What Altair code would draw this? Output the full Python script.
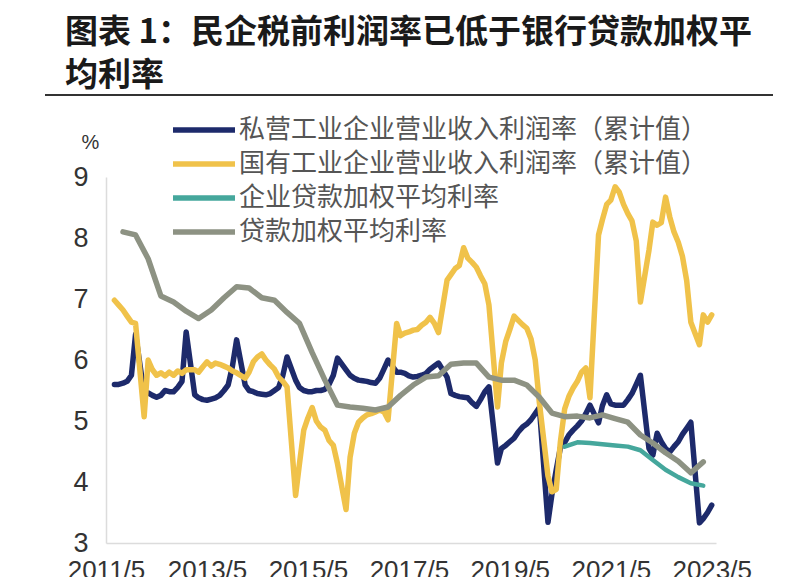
import altair as alt
import pandas as pd

title_lines = ["图表 1：民企税前利润率已低于银行贷款加权平", "均利率"]
series_names = [
    "私营工业企业营业收入利润率（累计值）",
    "国有工业企业营业收入利润率（累计值）",
    "企业贷款加权平均利率",
    "贷款加权平均利率",
]
series_colors = ["#1d2a6b", "#f0c24a", "#45a79c", "#8d9283"]
x_tick_years = [2011, 2013, 2015, 2017, 2019, 2021, 2023]
y_ticks = [3, 4, 5, 6, 7, 8, 9]

# cumulative monthly data (January not published), 2011/7 - 2023/5
monthly_dates = [
    f"{y}/{m:02d}/01"
    for y in range(2011, 2024)
    for m in range(2, 13)
    if (2011, 7) <= (y, m) <= (2023, 5)
]

private_margin = [
    5.6, 5.6, 5.62, 5.65, 5.75, 6.42,
    5.45, 5.46, 5.42, 5.39, 5.42, 5.5, 5.48, 5.48, 5.55, 5.65, 6.46,
    5.43, 5.38, 5.35, 5.34, 5.36, 5.38, 5.42, 5.5, 5.59, 5.9, 6.33,
    5.59, 5.5, 5.48, 5.45, 5.44, 5.43, 5.45, 5.5, 5.55, 5.75, 6.05,
    5.67, 5.55, 5.5, 5.48, 5.48, 5.5, 5.5, 5.52, 5.6, 5.75, 6.03,
    5.84, 5.75, 5.7, 5.67, 5.66, 5.65, 5.63, 5.62, 5.7, 5.85, 6.0,
    5.8, 5.8, 5.78, 5.74, 5.72, 5.73, 5.75, 5.78, 5.85, 5.9, 5.95,
    5.72, 5.45, 5.42, 5.4, 5.39, 5.38, 5.3, 5.24, 5.35, 5.48, 5.56,
    4.31, 4.55, 4.6, 4.66, 4.72, 4.82, 4.9, 4.95, 5.02, 5.12, 5.22,
    3.34, 3.8, 4.2, 4.56, 4.65, 4.77, 4.85, 4.92, 5.0, 5.12, 5.26,
    4.97, 5.25, 5.43, 5.28, 5.26, 5.26, 5.26, 5.35, 5.45, 5.6, 5.75,
    4.55, 4.44, 4.8, 4.66, 4.55, 4.49, 4.58, 4.66, 4.78, 4.88, 4.98,
    3.33, 3.4, 3.5, 3.62,
]

state_margin = [
    6.98, 6.9, 6.82, 6.72, 6.62, 6.6,
    5.07, 6.0, 5.84, 5.75, 5.79, 5.74, 5.8, 5.75, 5.82, 5.78, 5.84,
    5.84, 5.8, 5.89, 5.97, 5.9, 5.95, 5.93, 5.9, 5.87, 5.82, 5.79,
    5.7, 5.8, 5.97, 6.05, 6.1, 6.0, 5.92, 5.85, 5.72, 5.65, 5.56,
    3.78, 4.3, 4.85, 5.05, 5.22, 5.0, 4.9, 4.85, 4.68, 4.6, 4.3,
    3.55, 4.4, 4.8, 4.98, 5.05, 5.1, 5.12, 5.15, 5.18, 5.15, 5.02,
    6.6, 6.4, 6.44, 6.46, 6.49, 6.5, 6.57, 6.62, 6.7, 6.6, 6.45,
    7.31, 7.4, 7.5, 7.55, 7.84, 7.67, 7.6, 7.52, 7.38, 7.25, 6.9,
    5.23, 5.95, 6.3, 6.5, 6.72, 6.65, 6.58, 6.52, 6.35, 6.0, 5.3,
    4.1, 3.84, 3.88, 4.66, 5.2, 5.4, 5.54, 5.65, 5.8, 5.87, 5.38,
    8.05, 8.3, 8.55, 8.62, 8.84, 8.75, 8.55, 8.4, 8.28, 7.95, 6.95,
    7.8, 8.26, 8.21, 8.25, 8.67, 8.35, 8.1, 7.93, 7.7, 7.3, 6.62,
    6.25, 6.74, 6.62, 6.74,
]

# quarterly loan rates
loan_dates = [
    f"{y}/{m:02d}/01"
    for y in range(2011, 2024)
    for m in (3, 6, 9, 12)
    if (2011, 9) <= (y, m) <= (2023, 3)
]
loan_rate = [
    8.10, 8.05,
    7.66, 7.05, 6.95, 6.80,
    6.68, 6.82, 7.02, 7.20,
    7.18, 7.02, 6.98, 6.78,
    6.60, 6.12, 5.67, 5.26,
    5.23, 5.21, 5.18, 5.23,
    5.42, 5.59, 5.72, 5.74,
    5.93, 5.95, 5.95, 5.72,
    5.67, 5.67, 5.59, 5.39,
    5.13, 5.07, 5.08, 5.05,
    5.10, 5.04, 4.98, 4.77,
    4.64, 4.48, 4.34, 4.15,
    4.33,
]

corp_dates = [
    f"{y}/{m:02d}/01"
    for y in range(2020, 2024)
    for m in (3, 6, 9, 12)
    if (2020, 6) <= (y, m) <= (2023, 3)
]
corp_loan_rate = [
    4.58, 4.65, 4.64,
    4.62, 4.60, 4.58, 4.52,
    4.36, 4.20, 4.08, 3.98,
    3.94,
]

assert len(monthly_dates) == len(private_margin) == len(state_margin)
assert len(loan_dates) == len(loan_rate)
assert len(corp_dates) == len(corp_loan_rate)

frames = [
    pd.DataFrame({"date": monthly_dates, "value": private_margin, "series": series_names[0]}),
    pd.DataFrame({"date": monthly_dates, "value": state_margin, "series": series_names[1]}),
    pd.DataFrame({"date": corp_dates, "value": corp_loan_rate, "series": series_names[2]}),
    pd.DataFrame({"date": loan_dates, "value": loan_rate, "series": series_names[3]}),
]
df = pd.concat(frames, ignore_index=True)

CJK = "Noto Sans CJK SC"
LATIN = "Liberation Sans"

x_enc = alt.X(
    "date:T",
    scale=alt.Scale(
        domain=[alt.DateTime(year=2011, month=5, date=1), alt.DateTime(year=2023, month=6, date=1)]
    ),
    axis=alt.Axis(
        values=[alt.DateTime(year=y, month=5, date=1) for y in x_tick_years],
        format="%Y/%-m",
        labelFontSize=26,
        labelFont=LATIN,
        labelColor="#333333",
        labelPadding=14,
        labelFlush=False,
        labelOverlap=False,
        ticks=False,
        grid=False,
        domainColor="#dcdcdc",
        domainWidth=1.5,
        title=None,
    ),
)
y_enc = alt.Y(
    "value:Q",
    scale=alt.Scale(domain=[3, 9], nice=False, zero=False),
    axis=alt.Axis(
        values=y_ticks,
        labelFontSize=27,
        labelFont=LATIN,
        labelColor="#333333",
        labelPadding=18,
        ticks=False,
        grid=False,
        domainColor="#dcdcdc",
        domainWidth=1.5,
        title="%",
        titleAngle=0,
        titleX=-16,
        titleY=-35,
        titleFontSize=20,
        titleFont=LATIN,
        titleFontWeight="normal",
        titleColor="#333333",
        titleAlign="center",
        titleBaseline="middle",
    ),
)

color_scale = alt.Scale(domain=series_names, range=series_colors)
legend = alt.Legend(
    orient="none",
    legendX=64,
    legendY=-64,
    title=None,
    symbolType="stroke",
    symbolSize=3844,
    symbolStrokeWidth=5.5,
    labelFontSize=26,
    labelFont=CJK,
    labelColor="#555555",
    labelOffset=1,
    labelLimit=700,
    clipHeight=34,
    rowPadding=0,
    padding=0,
)

layers = []
widths = [5.5, 5.5, 4.5, 5.5]
for i, name in enumerate(series_names):
    layers.append(
        alt.Chart(df)
        .transform_filter(alt.datum.series == name)
        .mark_line(strokeWidth=widths[i], strokeJoin="round", strokeCap="round")
        .encode(
            x=x_enc,
            y=y_enc,
            color=alt.Color("series:N", scale=color_scale, legend=legend if i == 0 else None),
        )
    )

rule = (
    alt.Chart(pd.DataFrame({"k": [0]}))
    .mark_rule(color="#333333", strokeWidth=2)
    .encode(x=alt.value(-61), x2=alt.value(667), y=alt.value(-82))
)

chart = (
    alt.layer(*layers, rule)
    .properties(
        width=610,
        height=366,
        autosize="none",
        padding={"left": 98, "top": 169, "right": 76, "bottom": 34},
        title=alt.TitleParams(
            text=title_lines,
            anchor="start",
            frame="group",
            dx=-41,
            offset=1,
            fontSize=33,
            font=CJK,
            fontWeight="bold",
            color="#1a1a1a",
            lineHeight=43,
        ),
        background="white",
    )
    .configure_view(stroke=None)
)

chart.save("out.html", embed_options={"renderer": "svg", "actions": False})
